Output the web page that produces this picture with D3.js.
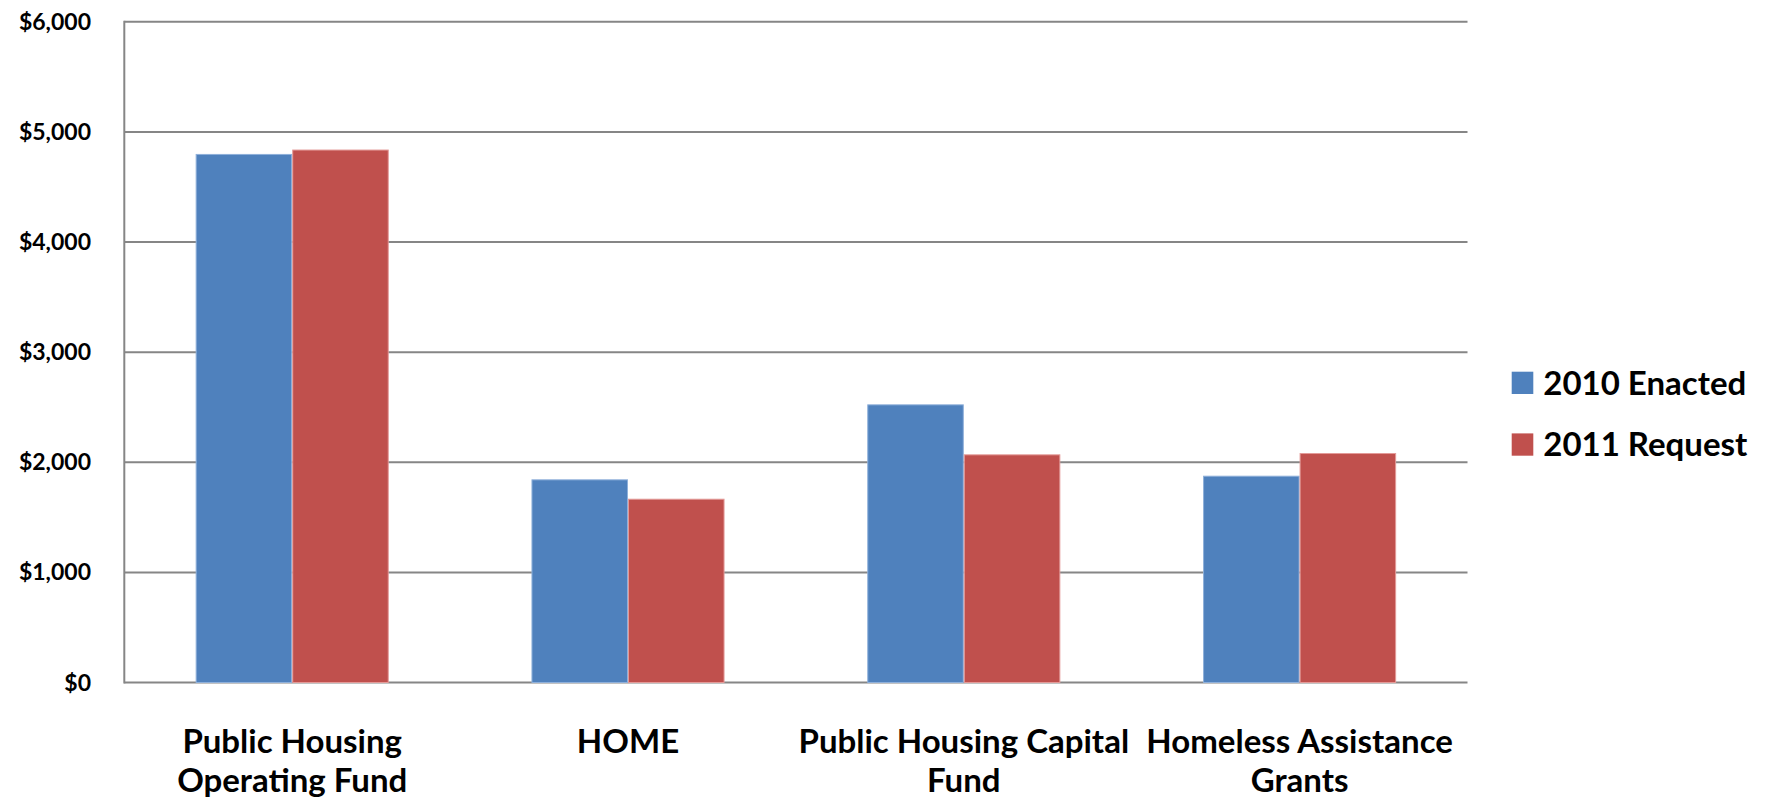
<!DOCTYPE html>
<html>
<head>
<meta charset="utf-8">
<script src="https://cdn.jsdelivr.net/npm/d3@7"></script>
<style>
  html, body { margin: 0; padding: 0; background: #ffffff; }
  svg { display: block; }
  text { font-family: Lato, "Open Sans", sans-serif; font-weight: 700; fill: #000; }
</style>
</head>
<body>
<svg id="chart" width="1765" height="805"></svg>
<script>
// HUD program funding, millions of dollars
const categories = [
  ["Public Housing", "Operating Fund"],
  ["HOME"],
  ["Public Housing Capital", "Fund"],
  ["Homeless Assistance", "Grants"]
];
const seriesNames = ["2010 Enacted", "2011 Request"];
const enacted2010 = [4800, 1845, 2526, 1878];
const request2011 = [4840, 1669, 2072, 2084];
const yTicks = [0, 1000, 2000, 3000, 4000, 5000, 6000];

const colors = ["#4F81BD", "#C0504D"];
const edges = ["#8FB0DA", "#E39A98"];

const svg = d3.select("#chart");
const plot = { left: 124.3, right: 1467.5, top: 21.8, bottom: 682.5 };

const keys = categories.map(c => c.join(" "));
const x = d3.scaleBand()
  .domain(keys)
  .range([plot.left, plot.right])
  .paddingInner(0.425)
  .paddingOuter(0.2125);
const xs = d3.scaleBand().domain([0, 1]).range([0, x.bandwidth()]);
const y = d3.scaleLinear().domain([0, 6000]).range([plot.bottom, plot.top]);

// Horizontal gridlines
svg.append("g")
  .selectAll("line")
  .data(yTicks)
  .join("line")
  .attr("x1", plot.left)
  .attr("x2", plot.right)
  .attr("y1", d => y(d))
  .attr("y2", d => y(d))
  .attr("stroke", "#868686")
  .attr("stroke-width", 2);

// Y axis labels
const fmt = d => "$" + d3.format(",")(d);
svg.append("g")
  .selectAll("text")
  .data(yTicks)
  .join("text")
  .attr("x", 91)
  .attr("y", d => y(d))
  .attr("dy", "0.35em")
  .attr("text-anchor", "end")
  .style("font-size", "23px")
  .text(fmt);

// Bars
const series = [enacted2010, request2011];
const groups = svg.append("g")
  .selectAll("g")
  .data(keys)
  .join("g")
  .attr("transform", d => `translate(${x(d)},0)`);

groups.selectAll("rect")
  .data((d, i) => series.map((s, j) => ({ s: j, v: s[i] })))
  .join("rect")
  .attr("x", d => xs(d.s) + 0.5)
  .attr("width", xs.bandwidth() - 1)
  .attr("y", d => y(d.v) + 0.5)
  .attr("height", d => y(0) - y(d.v) - 0.5)
  .attr("fill", d => colors[d.s])
  .attr("stroke", d => edges[d.s])
  .attr("stroke-width", 1);

// Y axis line
svg.append("line")
  .attr("x1", plot.left).attr("x2", plot.left)
  .attr("y1", plot.top - 1).attr("y2", plot.bottom + 1)
  .attr("stroke", "#868686")
  .attr("stroke-width", 2);

// Category labels
const catLabels = svg.append("g")
  .selectAll("text")
  .data(categories)
  .join("text")
  .attr("x", (d, i) => x(keys[i]) + x.bandwidth() / 2)
  .attr("y", 753)
  .attr("text-anchor", "middle")
  .style("font-size", "33px");
catLabels.selectAll("tspan")
  .data(d => d)
  .join("tspan")
  .attr("x", function () { return d3.select(this.parentNode).attr("x"); })
  .attr("dy", (d, i) => i === 0 ? 0 : 38.5)
  .text(d => d);

// Legend
const legend = svg.append("g")
  .selectAll("g")
  .data(seriesNames)
  .join("g")
  .attr("transform", (d, i) => `translate(1511.7,${371.7 + i * 61.7})`);
legend.append("rect")
  .attr("width", 21.6)
  .attr("height", 22.3)
  .attr("fill", (d, i) => colors[i]);
legend.append("text")
  .attr("x", 31.6)
  .attr("y", 23)
  .style("font-size", "33px")
  .text(d => d);
</script>
</body>
</html>
